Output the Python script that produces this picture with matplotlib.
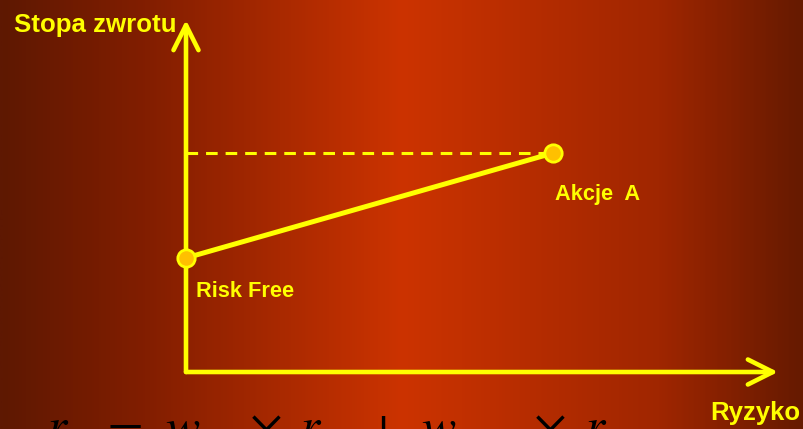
import numpy as np
import matplotlib
matplotlib.use("Agg")
import matplotlib.pyplot as plt
from matplotlib.colors import LinearSegmentedColormap

# ---- data (risk / return, arbitrary units) ----
points = ["Risk Free", "Akcje  A"]
risk = [0.0, 6.2]
ret = [3.24, 6.22]
x_label = "Ryzyko"
y_label = "Stopa zwrotu"
# formula at the bottom (cut off by the frame in the original): r_p = w_RF x r_RF + w_A x r_A
formula = ["$r$", "$=$", "$w$", r"$\times$", "$r$", "$+$", "$w$", r"$\times$", "$r$"]
formula_x = [46, 100, 165, 249, 299, 365, 421, 533, 584]
subs = ["$p$", "", "$RF$", "", "$RF$", "", "$A$", "", "$A$"]

YEL = "#ffff00"
DOT = "#ffc000"
plt.rcParams["mathtext.fontset"] = "stix"
BOLD = ["Liberation Sans", "DejaVu Sans"]

W, H = 804, 429
fig = plt.figure(figsize=(W / 100, H / 100), dpi=100)

# background: horizontal dark-red -> orange -> dark-red gradient
bg = fig.add_axes([0, 0, 1, 1])
cmap = LinearSegmentedColormap.from_list(
    "bg", [(0, "#5e1802"), (0.18, "#821e00"), (0.5, "#cc3300"), (0.82, "#a02600"), (1, "#661a00")])
bg.imshow(np.linspace(0, 1, 400)[None, :], aspect="auto", cmap=cmap, extent=[0, W, H, 0])
bg.set_xlim(0, W)
bg.set_ylim(H, 0)
bg.axis("off")

# plot area: origin at (186, 372) px, arrow tips at x=778 / y=20
x0, y0, x1, y1 = 186, 372, 778, 20
ax = fig.add_axes([x0 / W, (H - y0) / H, (x1 - x0) / W, (y0 - y1) / H])
ax.set_xlim(0, 10)
ax.set_ylim(0, 10)
ax.axis("off")
ax.patch.set_alpha(0)

for tip in [(10, 0), (0, 10)]:
    ax.annotate("", xy=tip, xytext=(0, 0),
                arrowprops=dict(arrowstyle="->,head_length=0.9,head_width=0.45",
                                color=YEL, lw=3.3, mutation_scale=20,
                                shrinkA=0, shrinkB=0),
                annotation_clip=False)

ax.plot([0, risk[1]], [ret[1], ret[1]], color=YEL, lw=2.2, ls=(0, (3.8, 2.6)), clip_on=False)
ax.plot(risk, ret, color=YEL, lw=3.6, solid_capstyle="round", clip_on=False)
ax.plot(risk, ret, "o", ms=12.5, mfc=DOT, mec=YEL, mew=2, ls="none", clip_on=False, zorder=5)

# labels (pixel coordinates on the background axes)
bg.text(14, 32, y_label, color=YEL, fontsize=18.6, fontweight="bold", family=BOLD, va="baseline")
bg.text(710, 420, x_label, color=YEL, fontsize=18.5, fontweight="bold", family=BOLD, va="baseline")
bg.text(196, 297, points[0], color=YEL, fontsize=15.7, fontweight="bold", family=BOLD, va="baseline")
bg.text(555, 200, points[1], color=YEL, fontsize=15.7, fontweight="bold", family=BOLD, va="baseline")

for s, sub, xp in zip(formula, subs, formula_x):
    t = bg.text(xp, 443, s, color="black", fontsize=37, va="baseline", clip_on=False)
    if sub:
        # subscripts sit below the frame, as in the original
        bg.text(xp + 22, 462, sub, color="black", fontsize=26, va="baseline", clip_on=False)

fig.savefig("out.png", dpi=100)
